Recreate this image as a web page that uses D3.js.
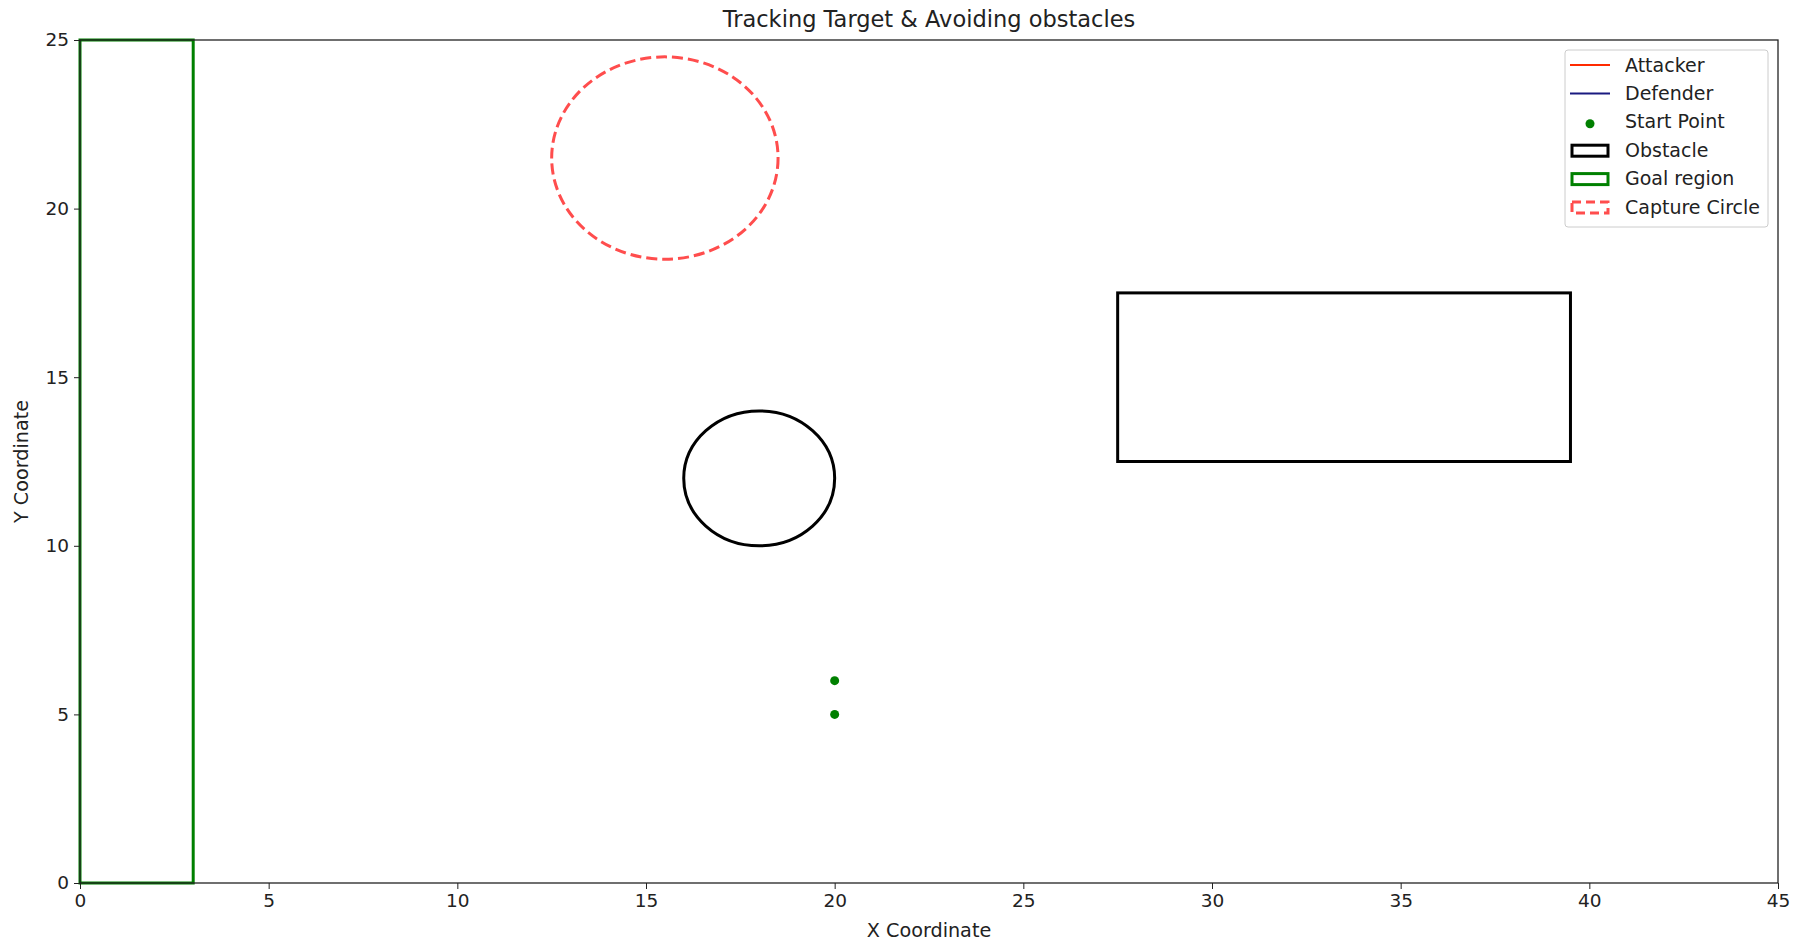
<!DOCTYPE html>
<html>
<head>
<meta charset="utf-8">
<script src="https://cdn.jsdelivr.net/npm/d3@7"></script>
<style>
  body { margin: 0; background: #fff; }
  text { font-family: "DejaVu Sans", sans-serif; fill: #222; }
</style>
</head>
<body>
<svg class="chart"></svg>
<script>
// data
const xTicks = [0, 5, 10, 15, 20, 25, 30, 35, 40, 45];
const yTicks = [0, 5, 10, 15, 20, 25];
const goalRegion = [{x: 0, y: 0, w: 3, h: 25}];
const rectObstacles = [{x: 27.5, y: 12.5, w: 12, h: 5}];
const circleObstacles = [{cx: 18, cy: 12, r: 2}];
const captureCircles = [{cx: 15.5, cy: 21.5, r: 3}];
const startPoints = [{x: 20, y: 6}, {x: 20, y: 5}];
const legendItems = ['Attacker', 'Defender', 'Start Point', 'Obstacle', 'Goal region', 'Capture Circle'];

const W = 1793, H = 941;
const margin = {top: 40, right: 15, bottom: 58, left: 80};
const width = W - margin.left - margin.right;
const height = H - margin.top - margin.bottom;

const x = d3.scaleLinear().domain([0, 45]).range([0, width]);
const y = d3.scaleLinear().domain([0, 25]).range([height, 0]);

const svg = d3.select('.chart').attr('width', W).attr('height', H);
const g = svg.append('g').attr('transform', 'translate(' + margin.left + ',' + margin.top + ')');

// goal region
g.selectAll('.goal').data(goalRegion).enter().append('rect')
  .attr('x', d => x(d.x)).attr('y', d => y(d.y + d.h))
  .attr('width', d => x(d.x + d.w) - x(d.x)).attr('height', d => y(d.y) - y(d.y + d.h))
  .attr('fill', 'none').attr('stroke', 'green').attr('stroke-width', 3);

// rectangle obstacles
g.selectAll('.obst').data(rectObstacles).enter().append('rect')
  .attr('x', d => x(d.x)).attr('y', d => y(d.y + d.h))
  .attr('width', d => x(d.x + d.w) - x(d.x)).attr('height', d => y(d.y) - y(d.y + d.h))
  .attr('fill', 'none').attr('stroke', 'black').attr('stroke-width', 3);

// circle obstacles (ellipse on screen because of unequal scales)
g.selectAll('.cobst').data(circleObstacles).enter().append('ellipse')
  .attr('cx', d => x(d.cx)).attr('cy', d => y(d.cy))
  .attr('rx', d => x(d.r) - x(0)).attr('ry', d => y(0) - y(d.r))
  .attr('fill', 'none').attr('stroke', 'black').attr('stroke-width', 3);

// capture circle
g.selectAll('.cap').data(captureCircles).enter().append('ellipse')
  .attr('cx', d => x(d.cx)).attr('cy', d => y(d.cy))
  .attr('rx', d => x(d.r) - x(0)).attr('ry', d => y(0) - y(d.r))
  .attr('fill', 'none').attr('stroke', '#ff4d4d').attr('stroke-width', 3)
  .attr('stroke-dasharray', '11,5');

// start points
g.selectAll('.start').data(startPoints).enter().append('circle')
  .attr('cx', d => x(d.x)).attr('cy', d => y(d.y)).attr('r', 4.5)
  .attr('fill', 'green');

// axes
const xAxis = g.append('g').attr('transform', 'translate(0,' + height + ')')
  .call(d3.axisBottom(x).tickValues(xTicks).tickSize(6).tickPadding(5));
const yAxis = g.append('g')
  .call(d3.axisLeft(y).tickValues(yTicks).tickSize(6).tickPadding(5));
[xAxis, yAxis].forEach(a => {
  a.selectAll('text').attr('font-size', 18.5).attr('font-family', '"DejaVu Sans", sans-serif').attr('fill', '#222');
  a.select('.domain').remove();
  a.selectAll('line').attr('stroke', '#222');
});

// frame
g.append('rect').attr('width', width).attr('height', height)
  .attr('fill', 'none').attr('stroke', '#222').attr('stroke-width', 1.3);

// labels
svg.append('text').attr('x', margin.left + width / 2).attr('y', 27)
  .attr('text-anchor', 'middle').attr('font-size', 22.5)
  .text('Tracking Target & Avoiding obstacles');
svg.append('text').attr('x', margin.left + width / 2).attr('y', 937)
  .attr('text-anchor', 'middle').attr('font-size', 19.2)
  .text('X Coordinate');
svg.append('text').attr('transform', 'translate(28,' + (margin.top + height / 2) + ') rotate(-90)')
  .attr('text-anchor', 'middle').attr('font-size', 19.2)
  .text('Y Coordinate');

// legend
const lg = svg.append('g').attr('transform', 'translate(1565,50)');
lg.append('rect').attr('width', 203).attr('height', 177).attr('rx', 3)
  .attr('fill', 'white').attr('fill-opacity', 0.8).attr('stroke', '#ccc');
const rowY = i => 15 + i * 28.4;
const items = lg.selectAll('.item').data(legendItems).enter().append('g')
  .attr('transform', (d, i) => 'translate(0,' + rowY(i) + ')');
items.append('text').attr('x', 60).attr('y', 6.5).attr('font-size', 19).text(d => d);
items.each(function (d, i) {
  const s = d3.select(this);
  if (i === 0 || i === 1) {
    s.append('line').attr('x1', 5).attr('x2', 45).attr('y1', 0).attr('y2', 0)
      .attr('stroke', i === 0 ? '#ff2a00' : '#1a1a80').attr('stroke-width', 2);
  } else if (i === 2) {
    s.append('circle').attr('cx', 25).attr('cy', 2).attr('r', 4.5).attr('fill', 'green');
  } else {
    const col = i === 3 ? 'black' : i === 4 ? 'green' : '#ff4d4d';
    s.append('rect').attr('x', 7).attr('y', -5).attr('width', 36).attr('height', 11)
      .attr('fill', 'none').attr('stroke', col).attr('stroke-width', 3)
      .attr('stroke-dasharray', i === 5 ? '9,5' : null);
  }
});
</script>
</body>
</html>
